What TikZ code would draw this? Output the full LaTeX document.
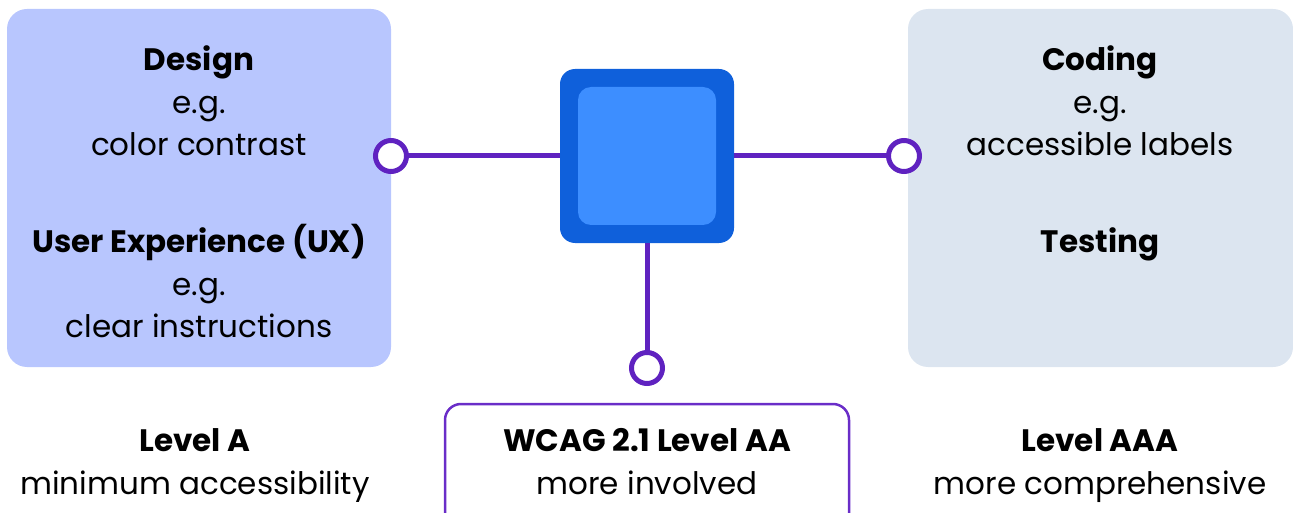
\documentclass[tikz,border=0pt]{standalone}
\usepackage{fontspec}
\setmainfont{Poppins}
\definecolor{lbox}{HTML}{B8C6FE}
\definecolor{rbox}{HTML}{DCE5F0}
\definecolor{outerblue}{HTML}{0F60DB}
\definecolor{innerblue}{HTML}{3D8EFF}
\definecolor{conn}{HTML}{5F22C0}
\definecolor{aabord}{HTML}{6A2DC8}
\tikzset{
  txt/.style={anchor=base, inner sep=0pt, font=\fontsize{31}{36}\selectfont},
  btxt/.style={txt, font=\fontsize{31}{36}\selectfont\bfseries},
  ring/.style={circle, draw=conn, line width=5pt, fill=white, minimum size=31pt, inner sep=0pt},
  wire/.style={draw=conn, line width=5pt},
}
\begin{document}
\begin{tikzpicture}[x=1pt,y=-1pt]
\useasboundingbox (0,0) rectangle (1293,513);
\clip (0,0) rectangle (1293,513);
% side boxes
\node[fill=lbox, rounded corners=20pt, minimum width=384pt, minimum height=358pt, inner sep=0pt] (design) at (199,188) {};
\node[fill=rbox, rounded corners=20pt, minimum width=385pt, minimum height=358pt, inner sep=0pt] (coding) at (1100.5,188) {};
% centre square
\node[fill=outerblue, rounded corners=15pt, minimum size=174pt, inner sep=0pt] (hub) at (647,156) {};
\node[fill=innerblue, rounded corners=13pt, minimum size=138pt, inner sep=0pt] (hubin) at (647,156) {};
% bottom AA box
\draw[aabord, line width=2.5pt, rounded corners=16pt] (445,560) -- (445,404) -- (849,404) -- (849,560);
\node[draw=none, minimum width=404pt, minimum height=100pt] (aabox) at (647,454) {};
% rings
\coordinate (lc) at (391,156);
\coordinate (rc) at (904,156);
\coordinate (bc) at (647,368);
\draw[wire] (lc) -- (hub.west);
\draw[wire] (hub.east) -- (rc);
\draw[wire] (hub.south) -- (bc);
\node[ring] (lring) at (lc) {};
\node[ring] (rring) at (rc) {};
\node[ring] (bring) at (bc) {};
% left texts
\node[btxt] (t1) at (199,71) {Design};
\node[txt] (t2) at (199,114) {e.g.};
\node[txt] (t3) at (199,156) {color contrast};
\node[btxt] (t4) at (199,252) {User Experience (UX)};
\node[txt] (t5) at (199,295) {e.g.};
\node[txt] (t6) at (199,337) {clear instructions};
% right texts
\node[btxt] (r1) at (1100,71) {Coding};
\node[txt] (r2) at (1100,114) {e.g.};
\node[txt] (r3) at (1100,156) {accessible labels};
\node[btxt] (r4) at (1100,252) {Testing};
% bottom texts
\node[btxt] (b1) at (195,451) {Level A};
\node[txt] (b2) at (195,494) {minimum accessibility};
\node[btxt] (b3) at (647,451) {WCAG 2.1 Level AA};
\node[txt] (b4) at (647,494) {more involved};
\node[btxt] (b5) at (1100,451) {Level AAA};
\node[txt] (b6) at (1100,494) {more comprehensive};
\end{tikzpicture}
\end{document}
